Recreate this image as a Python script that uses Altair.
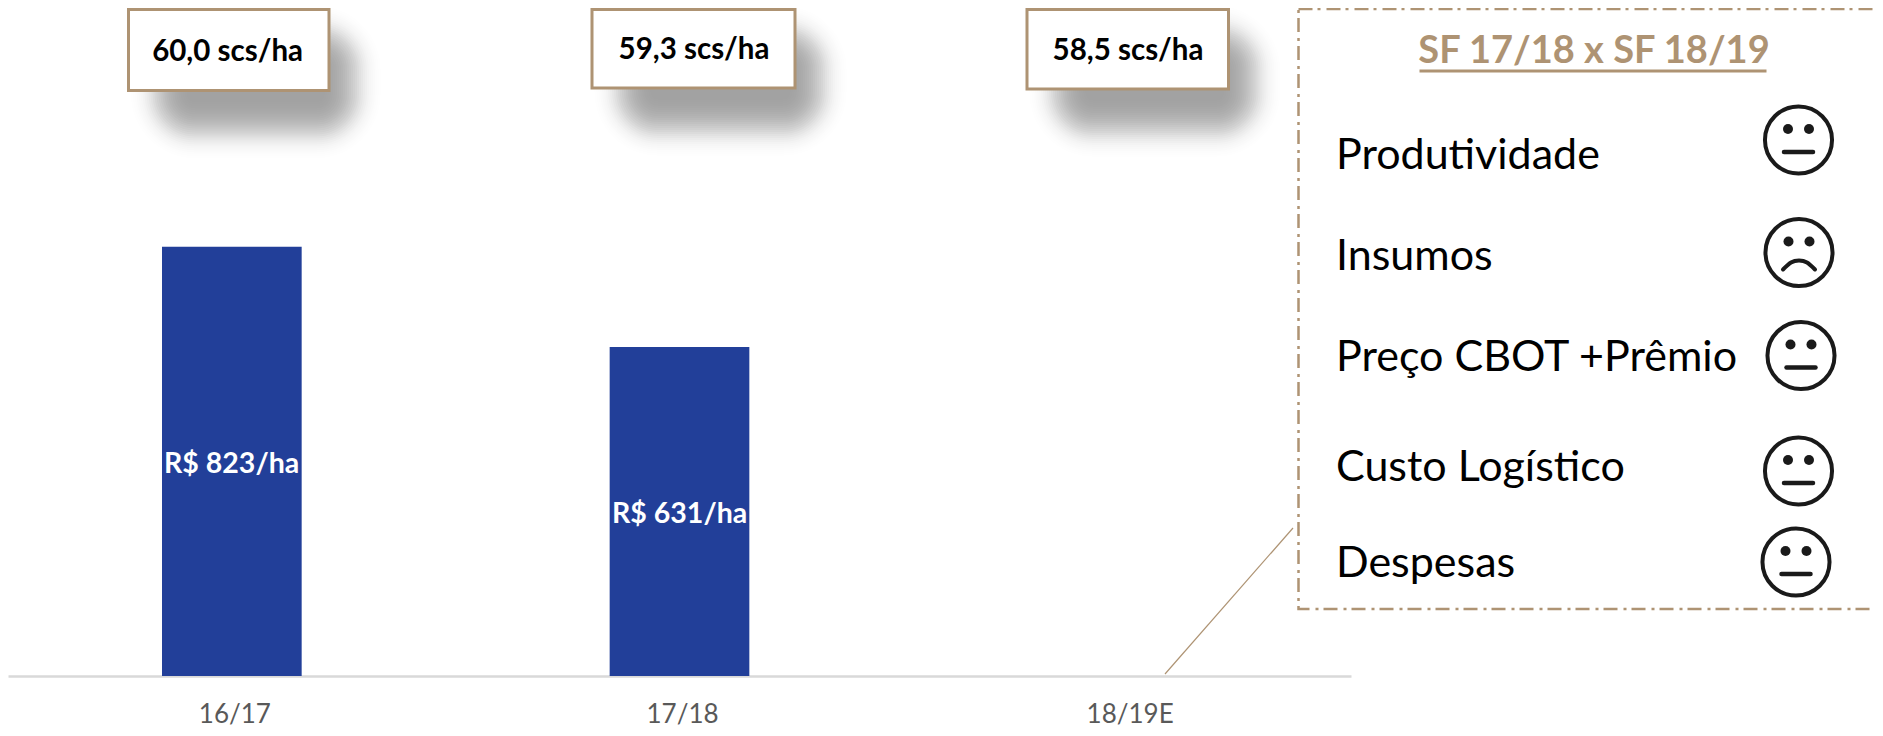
import math
import altair as alt
import pandas as pd

# ---- values
categories = ["16/17", "17/18", "18/19E"]
margin_values = [823, 631, None]
margin_labels = ["R$ 823/ha", "R$ 631/ha"]
yield_labels = ["60,0 scs/ha", "59,3 scs/ha", "58,5 scs/ha"]
panel_title = "SF 17/18 x SF 18/19"
panel_items = ["Produtividade", "Insumos", "Preço CBOT +Prêmio", "Custo Logístico", "Despesas"]
panel_moods = ["neutral", "sad", "neutral", "neutral", "neutral"]

# ---- annotation layout, in page pixels
box_x0 = [128.5, 592, 1027]
box_x1 = [329, 795, 1228.5]
box_y0 = [9.5, 9.5, 9.5]
box_y1 = [90.5, 88, 89]
box_text_x = [227.6, 694, 1128]
box_text_y = [61, 59, 60]
bar_text_x = [231.6, 679.6]
bar_text_y = [473, 522.5]
item_y = [169, 270, 371, 481, 577]
face_x = [1798.5, 1799, 1801, 1798.5, 1796]
face_y = [140, 252.5, 355.5, 471, 562]

TAN = "#AE9373"
INK = "#1a1a1a"
FONT = "Lato"
W, H = 1867, 668

XS = alt.Scale(domain=[8, 8 + W], range=[0, W])
YS = alt.Scale(domain=[8, 8 + H], range=[0, H])
X = alt.X("x:Q", scale=XS, axis=None)
Y = alt.Y("y:Q", scale=YS, axis=None)
X2 = alt.X2("x2:Q")
Y2 = alt.Y2("y2:Q")


def df(**cols):
    return alt.Data(values=pd.DataFrame(cols).to_dict("records"))


layers = []

# soft shadows: stacked rectangles with a bell-shaped opacity profile
steps = list(range(36, -38, -2))
sigma = 13.0
raw = [math.exp(-(s * s) / (2 * sigma * sigma)) for s in steps]
peak = 0.40
weights = [peak * r / sum(raw) for r in raw]
for s, a in zip(steps, weights):
    d = df(x=[v + 30 - s for v in box_x0], x2=[v + 24 + s for v in box_x1],
           y=[v + 24 - s for v in box_y0], y2=[v + 40 + s for v in box_y1])
    layers.append(
        alt.Chart(d).mark_rect(color="#000000", opacity=a, cornerRadius=max(0, s + 36))
        .encode(x=X, x2=X2, y=Y, y2=Y2)
    )

# bars and category axis
bars = alt.Chart(alt.Data(values=[{"c": c, "v": v} for c, v in zip(categories, margin_values)])).mark_bar(
    color="#223F99"
).encode(
    x=alt.X("c:N", sort=categories,
            scale=alt.Scale(domain=categories, range=[0, 1343], paddingInner=0.688, paddingOuter=0.344),
            axis=alt.Axis(title=None, ticks=False, labelAngle=0, labelFont=FONT, labelFontSize=26,
                          labelColor="#595959", labelBaseline="alphabetic", labelPadding=46, labelOffset=3,
                          domainColor="#D9D9D9", domainWidth=2.5, grid=False)),
    y=alt.Y("v:Q", scale=alt.Scale(domain=[0, 1281], nice=False), axis=None),
)
layers.append(bars)

# bar labels
layers.append(
    alt.Chart(df(x=bar_text_x, y=bar_text_y, t=margin_labels))
    .mark_text(font=FONT, fontWeight="bold", fontSize=28.5, color="white", align="center", baseline="alphabetic")
    .encode(x=X, y=Y, text="t:N")
)

# yield boxes
layers.append(
    alt.Chart(df(x=box_x0, x2=box_x1, y=box_y0, y2=box_y1))
    .mark_rect(fill="white", stroke=TAN, strokeWidth=3)
    .encode(x=X, x2=X2, y=Y, y2=Y2)
)
layers.append(
    alt.Chart(df(x=box_text_x, y=box_text_y, t=yield_labels))
    .mark_text(font=FONT, fontWeight="bold", fontSize=29.5, color="black", align="center", baseline="alphabetic")
    .encode(x=X, y=Y, text="t:N")
)

# leader line and dashed panel
layers.append(
    alt.Chart(df(x=[1165], y=[674], x2=[1293], y2=[528]))
    .mark_rule(color=TAN, strokeWidth=1.2)
    .encode(x=X, y=Y, x2=X2, y2=Y2)
)
layers.append(
    alt.Chart(df(x=[1298.5], x2=[1900], y=[9], y2=[609]))
    .mark_rect(fillOpacity=0, stroke=TAN, strokeWidth=2.5, strokeDash=[14, 5, 3, 6])
    .encode(x=X, x2=X2, y=Y, y2=Y2)
)

# panel title with underline
layers.append(
    alt.Chart(df(x=[1594], y=[63], t=[panel_title]))
    .mark_text(font=FONT, fontWeight="bold", fontSize=38, color=TAN, align="center", baseline="alphabetic")
    .encode(x=X, y=Y, text="t:N")
)
layers.append(
    alt.Chart(df(x=[1419.5], x2=[1766.5], y=[71], y2=[71]))
    .mark_rule(color=TAN, strokeWidth=3)
    .encode(x=X, x2=X2, y=Y)
)

# panel rows
layers.append(
    alt.Chart(df(x=[1336] * 5, y=item_y, t=panel_items))
    .mark_text(font=FONT, fontSize=43, color="black", align="left", baseline="alphabetic")
    .encode(x=X, y=Y, text="t:N")
)

# faces
layers.append(
    alt.Chart(df(x=face_x, y=face_y))
    .mark_point(shape="circle", size=4500, filled=False, stroke=INK, strokeWidth=4, opacity=1)
    .encode(x=X, y=Y)
)
eyes_x = [fx + dx for fx in face_x for dx in (-10.5, 10.5)]
eyes_y = [fy - 11 for fy in face_y for _ in (0, 1)]
layers.append(
    alt.Chart(df(x=eyes_x, y=eyes_y))
    .mark_point(shape="circle", size=100, filled=True, fill=INK, stroke=None, opacity=1)
    .encode(x=X, y=Y)
)
neutral = [i for i, m in enumerate(panel_moods) if m == "neutral"]
layers.append(
    alt.Chart(df(x=[face_x[i] - 14.5 for i in neutral], x2=[face_x[i] + 14.5 for i in neutral],
                 y=[face_y[i] + 12 for i in neutral]))
    .mark_rule(color=INK, strokeWidth=4.5, strokeCap="round")
    .encode(x=X, x2=X2, y=Y)
)
sad = panel_moods.index("sad")
layers.append(
    alt.Chart(df(x=[face_x[sad] + d for d in (-16, -8, 0, 8, 16)],
                 y=[face_y[sad] + d for d in (17, 10, 8, 10, 17)]))
    .mark_line(color=INK, strokeWidth=4, interpolate="natural", strokeCap="round")
    .encode(x=X, y=Y)
)

chart = (
    alt.layer(*layers)
    .resolve_scale(x="independent", y="independent")
    .properties(width=W, height=H, padding={"left": 0, "right": 0, "top": 0, "bottom": 52},
                autosize=alt.AutoSizeParams(type="none"), background="white")
    .configure_view(stroke=None)
)
chart.save("out.html", embed_options={"renderer": "svg", "actions": False})
